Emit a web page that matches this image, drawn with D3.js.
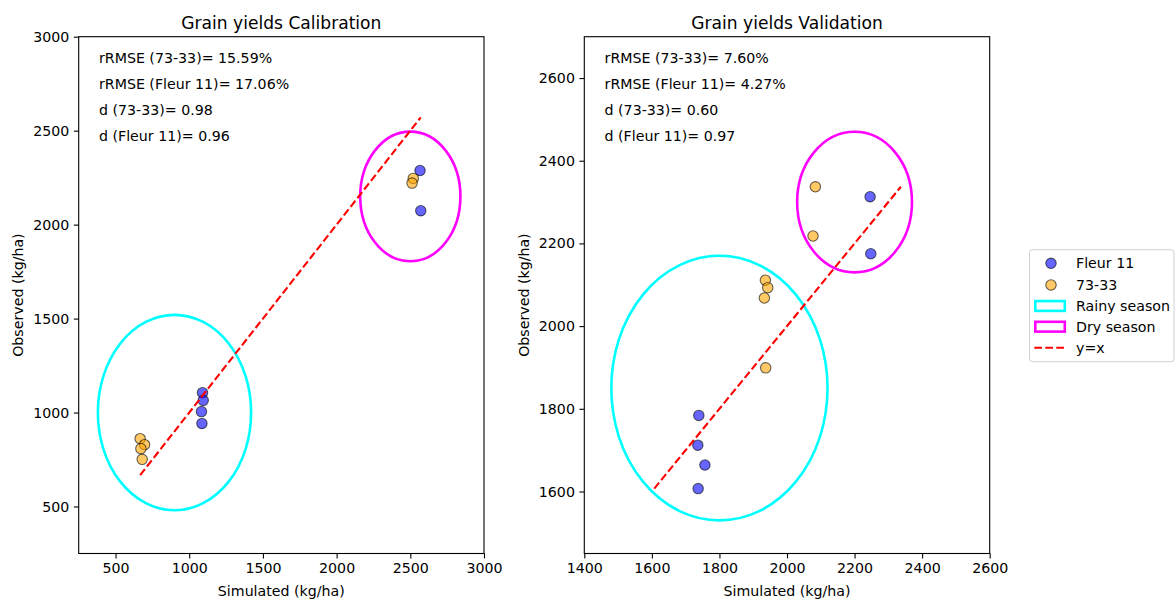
<!DOCTYPE html>
<html>
<head>
<meta charset="utf-8">
<script src="https://cdn.jsdelivr.net/npm/d3@7"></script>
<style>
  html, body { margin: 0; padding: 0; background: #fff; }
  svg { display: block; font-family: "DejaVu Sans", sans-serif; }
</style>
</head>
<body>
<svg id="chart" width="1175" height="599"></svg>
<script>
// ---------- data ----------
const calFleurSim = [1090, 1095, 1083, 1086, 2571, 2566];
const calFleurObs = [1106, 1065, 1005, 942, 2074, 2288];
const cal7333Sim = [667, 697, 672, 681, 2520, 2512];
const cal7333Obs = [861, 829, 808, 751, 2246, 2221];

const valFleurSim = [1739, 1736, 1757, 1737, 2246, 2248];
const valFleurObs = [1784, 1712, 1664, 1607, 2313, 2175];
const val7333Sim = [1936, 1943, 1933, 1937, 2084, 2077];
const val7333Obs = [2111, 2093, 2068, 1899, 2337, 2218];

// ellipses: [centerX, centerY, width, height] in data units
const calRainy = [900, 1000, 1040, 1040];
const calDry = [2500, 2150, 680, 690];
const valRainy = [1800, 1850, 640, 640];
const valDry = [2200, 2300, 340, 340];

const calXDomain = [250, 3000];
const calYDomain = [250, 3000];
const valXDomain = [1400, 2600];
const valYDomain = [1450, 2700];
const calTicks = [500, 1000, 1500, 2000, 2500, 3000];
const calYTicks = [500, 1000, 1500, 2000, 2500, 3000];
const valXTicks = [1400, 1600, 1800, 2000, 2200, 2400, 2600];
const valYTicks = [1600, 1800, 2000, 2200, 2400, 2600];

const calStats = ["rRMSE (73-33)= 15.59%", "rRMSE (Fleur 11)= 17.06%", "d (73-33)= 0.98", "d (Fleur 11)= 0.96"];
const valStats = ["rRMSE (73-33)= 7.60%", "rRMSE (Fleur 11)= 4.27%", "d (73-33)= 0.60", "d (Fleur 11)= 0.97"];

const seriesNames = ["Fleur 11", "73-33"];
const seriesColors = ["blue", "orange"];
const seasonNames = ["Rainy season", "Dry season"];
const seasonColors = ["cyan", "magenta"];

// ---------- drawing ----------
const svg = d3.select("#chart");
const FS = 14.2;

function panel(opt) {
  const { x0, x1, y0, y1 } = opt;
  const xs = d3.scaleLinear().domain(opt.xd).range([x0, x1]);
  const ys = d3.scaleLinear().domain(opt.yd).range([y1, y0]);
  const g = svg.append("g");
  const clipId = "clip" + opt.id;
  g.append("clipPath").attr("id", clipId).append("rect")
    .attr("x", x0).attr("y", y0).attr("width", x1 - x0).attr("height", y1 - y0);
  const plot = g.append("g").attr("clip-path", `url(#${clipId})`);

  // scatter
  const sets = [[opt.fSim, opt.fObs], [opt.oSim, opt.oObs]];
  sets.forEach((s, i) => {
    plot.selectAll(null).data(d3.zip(s[0], s[1])).enter().append("circle")
      .attr("cx", d => xs(d[0])).attr("cy", d => ys(d[1])).attr("r", 5.2)
      .attr("fill", seriesColors[i]).attr("fill-opacity", 0.6)
      .attr("stroke", "black").attr("stroke-opacity", 0.6).attr("stroke-width", 1.1);
  });

  // ellipses
  [opt.rainy, opt.dry].forEach((e, i) => {
    plot.append("ellipse")
      .attr("cx", xs(e[0])).attr("cy", ys(e[1]))
      .attr("rx", xs(e[0] + e[2] / 2) - xs(e[0]))
      .attr("ry", ys(e[1] - e[3] / 2) - ys(e[1]))
      .attr("fill", "none").attr("stroke", seasonColors[i]).attr("stroke-width", 2.6);
  });

  // y = x line
  const all = [].concat(opt.fSim, opt.fObs, opt.oSim, opt.oObs);
  const lo = d3.min(all), hi = d3.max(all);
  plot.append("line")
    .attr("x1", xs(lo)).attr("y1", ys(lo)).attr("x2", xs(hi)).attr("y2", ys(hi))
    .attr("stroke", "red").attr("stroke-width", 2.1).attr("stroke-dasharray", "7.7,3.3");

  // axes
  const xAxis = d3.axisBottom(xs).tickValues(opt.xt).tickSize(4.9).tickPadding(4.5).tickFormat(d3.format("d"));
  const yAxis = d3.axisLeft(ys).tickValues(opt.yt).tickSize(4.9).tickPadding(4.5).tickFormat(d3.format("d"));
  const gx = g.append("g").attr("transform", `translate(0,${y1})`).call(xAxis);
  const gy = g.append("g").attr("transform", `translate(${x0},0)`).call(yAxis);
  [gx, gy].forEach(a => {
    a.select(".domain").remove();
    a.selectAll("line").attr("stroke", "#000").attr("stroke-width", 1.1);
    a.selectAll("text").attr("fill", "#000").style("font-size", FS + "px")
      .style("font-family", "DejaVu Sans, sans-serif");
  });
  gx.selectAll("text").attr("dy", "0.71em");

  // frame
  g.append("rect").attr("x", x0).attr("y", y0).attr("width", x1 - x0).attr("height", y1 - y0)
    .attr("fill", "none").attr("stroke", "#000").attr("stroke-width", 1.1);

  // title & labels
  g.append("text").attr("x", (x0 + x1) / 2).attr("y", 28.5).attr("text-anchor", "middle")
    .style("font-size", "17.1px").text(opt.title);
  g.append("text").attr("x", (x0 + x1) / 2).attr("y", 596).attr("text-anchor", "middle")
    .style("font-size", FS + "px").text("Simulated (kg/ha)");
  g.append("text").attr("transform", `translate(${opt.ylabX},${(y0 + y1) / 2}) rotate(-90)`)
    .attr("text-anchor", "middle").style("font-size", FS + "px").text("Observed (kg/ha)");

  // stats text
  opt.stats.forEach((t, i) => {
    g.append("text").attr("x", x0 + 0.05 * (x1 - x0)).attr("y", 63.3 + i * 25.9)
      .style("font-size", FS + "px").text(t);
  });
}

panel({ id: "a", x0: 78.7, x1: 484, y0: 36.7, y1: 553.5, xd: calXDomain, yd: calYDomain,
  xt: calTicks, yt: calYTicks, fSim: calFleurSim, fObs: calFleurObs, oSim: cal7333Sim, oObs: cal7333Obs,
  rainy: calRainy, dry: calDry, title: "Grain yields Calibration", stats: calStats, ylabX: 23 });

panel({ id: "b", x0: 584.3, x1: 989.7, y0: 36.7, y1: 553.5, xd: valXDomain, yd: valYDomain,
  xt: valXTicks, yt: valYTicks, fSim: valFleurSim, fObs: valFleurObs, oSim: val7333Sim, oObs: val7333Obs,
  rainy: valRainy, dry: valDry, title: "Grain yields Validation", stats: valStats, ylabX: 529 });

// legend
const lg = svg.append("g");
lg.append("rect").attr("x", 1029.5).attr("y", 249.7).attr("width", 144.5).attr("height", 112)
  .attr("rx", 3).attr("fill", "white").attr("fill-opacity", 0.8)
  .attr("stroke", "#d0d0d0").attr("stroke-width", 1);
const rowsY = [263.3, 285, 306, 326.7, 347.7];
const labels = seriesNames.concat(seasonNames, ["y=x"]);
labels.forEach((t, i) => {
  const y = rowsY[i];
  if (i < 2) {
    lg.append("circle").attr("cx", 1051).attr("cy", y).attr("r", 5.2)
      .attr("fill", seriesColors[i]).attr("fill-opacity", 0.6)
      .attr("stroke", "black").attr("stroke-opacity", 0.6).attr("stroke-width", 1.1);
  } else if (i < 4) {
    lg.append("rect").attr("x", 1035.3).attr("y", y - 4.9).attr("width", 29.5).attr("height", 9.8)
      .attr("fill", "none").attr("stroke", seasonColors[i - 2]).attr("stroke-width", 2.6);
  } else {
    lg.append("line").attr("x1", 1034.3).attr("x2", 1065.7).attr("y1", y).attr("y2", y)
      .attr("stroke", "red").attr("stroke-width", 2.1).attr("stroke-dasharray", "7.7,3.3");
  }
  lg.append("text").attr("x", 1076).attr("y", y + 5).style("font-size", FS + "px").text(t);
});
</script>
</body>
</html>
